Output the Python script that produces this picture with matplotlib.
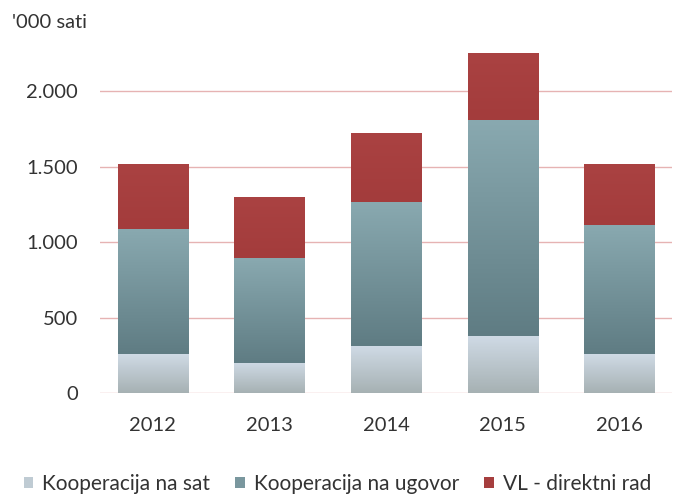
import matplotlib
matplotlib.use("Agg")
import matplotlib.pyplot as plt
import numpy as np
from matplotlib.colors import LinearSegmentedColormap

years = ["2012", "2013", "2014", "2015", "2016"]
kooperacija_sat = [258, 199, 311, 377, 258]
kooperacija_ugovor = [828, 695, 954, 1431, 855]
vl_direktni = [431, 404, 457, 444, 404]
series_names = ["Kooperacija na sat", "Kooperacija na ugovor", "VL - direktni rad"]
yticks = [0, 500, 1000, 1500, 2000]

plt.rcParams['font.family'] = ['Lato', 'DejaVu Sans']

fig = plt.figure(figsize=(6.75, 5), dpi=100)
ylo, yhi = 0, 2400
bottom_px, px_per_unit = 393, 0.1508
top_px = bottom_px - yhi * px_per_unit
ax = fig.add_axes([100/675, 1 - bottom_px/500, 572/675, (bottom_px - top_px)/500])

x = np.arange(len(years))
w = 0.6
# (bottom colour, top colour) for gradients
grads = [("#a6b1b3", "#cfdae5"), ("#5f7c83", "#89a9b0"), ("#a33c3c", "#aa4242")]
solid = ["#bfcbd3", "#7a979e", "#a63e3e"]
b1 = ax.bar(x, kooperacija_sat, w, color=solid[0], zorder=3, label=series_names[0])
b2 = ax.bar(x, kooperacija_ugovor, w, bottom=kooperacija_sat, color=solid[1], zorder=3, label=series_names[1])
bot3 = np.array(kooperacija_sat) + np.array(kooperacija_ugovor)
b3 = ax.bar(x, vl_direktni, w, bottom=bot3, color=solid[2], zorder=3, label=series_names[2])

ax.set_xlim(-0.45, 4.45)
ax.set_ylim(ylo, yhi)

grad = np.linspace(0, 1, 256).reshape(-1, 1)
for bars, (cb, ct) in zip([b1, b2, b3], grads):
    cmap = LinearSegmentedColormap.from_list("g", [cb, ct])
    for p in bars.patches:
        x0, y0 = p.get_x(), p.get_y()
        x1, y1 = x0 + p.get_width(), y0 + p.get_height()
        im = ax.imshow(grad, cmap=cmap, extent=[x0, x1, y0, y1], origin="lower",
                       aspect="auto", zorder=3.5, interpolation="bilinear")
        im.set_clip_path(p)

ax.set_xlim(-0.45, 4.45)
ax.set_ylim(ylo, yhi)
ax.set_yticks(yticks)
ax.set_yticklabels([f"{v:,}".replace(",", ".") for v in yticks])
ax.set_xticks(x)
ax.set_xticklabels(years)
ax.yaxis.grid(True, color="#e6b3b3", linewidth=1.0, zorder=0)
for s in ax.spines.values():
    s.set_visible(False)
ax.tick_params(axis='both', length=0, labelsize=14.5, colors="#333333")
ax.tick_params(axis='y', pad=16)
ax.tick_params(axis='x', pad=17)

fig.text(12/675, 1 - 22/500, "'000 sati", fontsize=14.5, color="#333333", va="center", ha="left")

fig.legend(handles=[b1, b2, b3], labels=series_names, loc="center", bbox_to_anchor=(0.5, 1 - 484/500),
           ncol=3, frameon=False, fontsize=15, handlelength=0.45, handleheight=0.45,
           handletextpad=0.45, columnspacing=1.2, labelcolor="#333333")

fig.savefig("out.png", dpi=100)
